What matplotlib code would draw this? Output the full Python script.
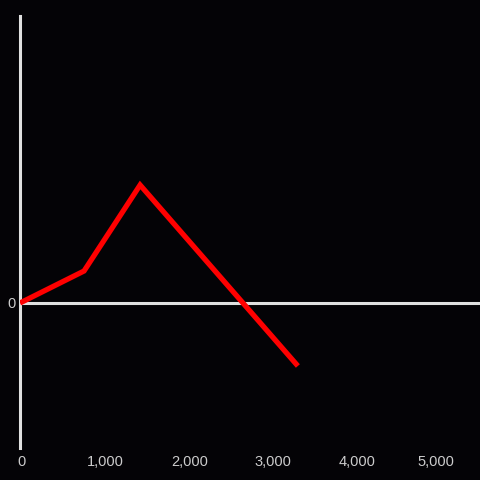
import matplotlib.pyplot as plt
import matplotlib.transforms as mtransforms
from matplotlib.ticker import FuncFormatter

x = [0, 765, 1435, 3320]
y = [0, 32, 118, -63]
xticks = [0, 1000, 2000, 3000, 4000, 5000]

plt.rcParams['font.family'] = ['Liberation Sans', 'DejaVu Sans']

bg = "#040306"
fig = plt.figure(figsize=(4.8, 4.8), dpi=100, facecolor=bg)
ax = fig.add_axes([20 / 480, 32 / 480, 460 / 480, 432 / 480])
ax.set_facecolor(bg)

ax.plot(x, y, color="#ff0000", lw=3.8, solid_capstyle="butt", solid_joinstyle="miter", zorder=3)
ax.axhline(0, color="#e0e0e0", lw=2.2, zorder=2)

ax.set_xlim(0, 5496)
ax.set_ylim(-145, 287)

for s in ["top", "right", "bottom"]:
    ax.spines[s].set_visible(False)
ax.spines["left"].set_color("#e0e0e0")
ax.spines["left"].set_linewidth(2.2)

ax.set_xticks(xticks)
ax.xaxis.set_major_formatter(FuncFormatter(lambda v, p: f"{int(v):,}"))
ax.set_yticks([0])
ax.tick_params(axis="both", length=0, colors="#cccccc", labelsize=10.5)
ax.tick_params(axis="x", pad=5)
ax.tick_params(axis="y", pad=3)

# labels sit a touch right of their ticks, last one pulled in
labels = ax.get_xticklabels()
for i, lab in enumerate(labels):
    dx = 2 if i < len(labels) - 1 else -3
    shift = mtransforms.ScaledTranslation(dx / 100, 0, fig.dpi_scale_trans)
    lab.set_transform(lab.get_transform() + shift)

plt.savefig("out.png", dpi=100, facecolor=bg)
